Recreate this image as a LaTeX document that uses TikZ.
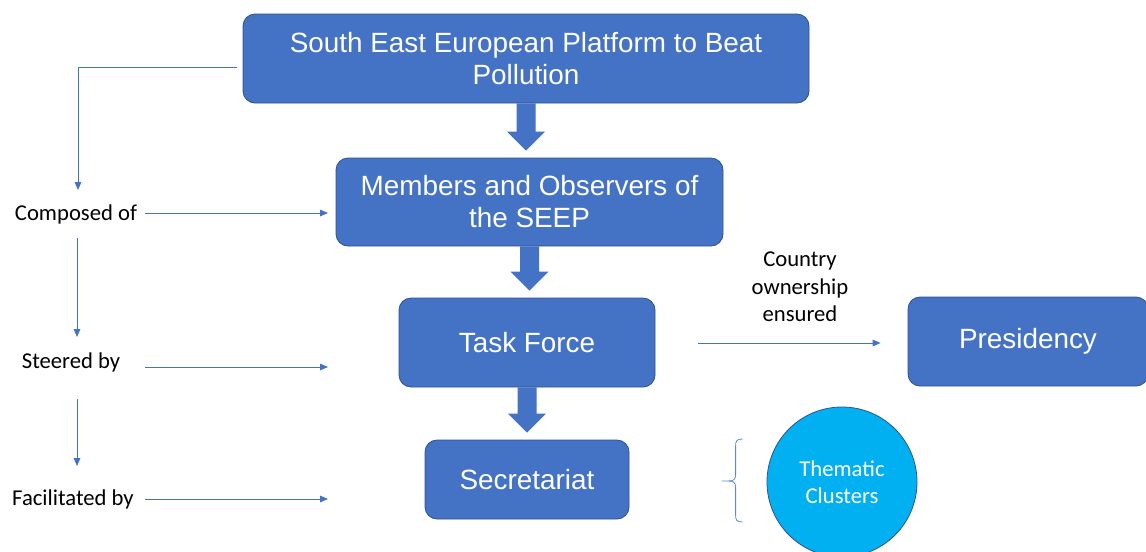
\documentclass[tikz,border=0pt]{standalone}
\usepackage{fontspec}
\setmainfont{Liberation Sans}
\newfontfamily\calibrifont{Carlito}
\usetikzlibrary{arrows.meta,calc}
\definecolor{seepblue}{RGB}{68,114,196}
\definecolor{seepedge}{RGB}{47,82,143}
\definecolor{clustercyan}{RGB}{0,176,240}

\tikzset{
  seepbox/.style={draw=seepedge, line width=0.6pt, fill=seepblue, rounded corners=9pt,
    text=white, align=center, inner sep=0pt, font=\fontsize{20.9}{24}\selectfont},
  steplabel/.style={font=\calibrifont\fontsize{17}{20.6}\selectfont, align=center, inner sep=0pt},
  thinarrow/.style={seepblue, line width=0.75pt, -{Triangle[length=6pt,width=5pt]}},
}

% thick block arrow from the bottom of #1 down to just above #2
\newcommand{\blockarrow}[2]{%
  \fill[seepblue] ($(#1.south)+(-9.5,0)$) -- ($(#1.south |- #2.north)+(-9.5,-26)$)
    -- ($(#1.south |- #2.north)+(-19,-26)$) -- ($(#1.south |- #2.north)+(0,-7)$)
    -- ($(#1.south |- #2.north)+(19,-26)$) -- ($(#1.south |- #2.north)+(9.5,-26)$)
    -- ($(#1.south)+(9.5,0)$) -- cycle;}

\begin{document}
\begin{tikzpicture}[x=0.75pt, y=-0.75pt]
\useasboundingbox (0,0) rectangle (1146,551);

% main chain
\node[seepbox, minimum width=424.5pt, minimum height=66.75pt] (platform) at (526,58.5) {South East European Platform to Beat\\Pollution};
\node[seepbox, minimum width=290.25pt, minimum height=66pt] (members) at (529.5,202) {Members and Observers of\\the SEEP};
\node[seepbox, minimum width=192pt, minimum height=66.75pt] (taskforce) at (527,342.5) {Task Force};
\node[seepbox, minimum width=153pt, minimum height=59.25pt] (secretariat) at (527,479.5) {Secretariat};
\node[seepbox, minimum width=180pt, minimum height=66.75pt] (presidency) at (1028,341.5) {Presidency};
\node[circle, draw=seepedge, line width=0.6pt, fill=clustercyan, minimum size=112.5pt, text=white,
  steplabel] (clusters) at (842,482) {Thematic\\Clusters};

\blockarrow{platform}{members}
\blockarrow{members}{taskforce}
\blockarrow{taskforce}{secretariat}

% left column
\node[steplabel] (composed) at (76,214) {Composed of};
\node[steplabel] (steered) at (71,362) {Steered by};
\node[steplabel] (facilitated) at (73,499) {Facilitated by};
\coordinate (composed-in) at (328,213);
\coordinate (steered-in) at (328,367);
\coordinate (facilitated-in) at (328,499);

\draw[thinarrow] ($(platform.west)+(-6,8.5)$) -| ($(composed)+(2,-24)$);
\draw[thinarrow] ($(composed)+(1,24)$) -- ($(composed)+(1,123)$);
\draw[thinarrow] ($(steered)+(6,37)$) -- ($(steered)+(6,104)$);
\draw[thinarrow] ($(composed.east)+(8,-1)$) -- (composed-in);
\draw[thinarrow] (steered-in -| composed.east) ++(8,0) -- (steered-in);
\draw[thinarrow] (facilitated-in -| composed.east) ++(8,0) -- (facilitated-in);

% presidency link
\draw[thinarrow] ($(taskforce.east)+(43,0.5)$) -- ($(presidency.west)+(-27,1.5)$);
\node[steplabel] (ownership) at (800,287) {Country\\ownership\\ensured};

% brace in front of the clusters
\coordinate (brace-tip) at ($(clusters.west)+(-45,-1)$);
\draw[seepblue!85, line width=0.6pt]
  ($(brace-tip)+(21,-42)$) .. controls ($(brace-tip)+(15,-42)$) and ($(brace-tip)+(14,-40)$) .. ($(brace-tip)+(14,-35)$)
  -- ($(brace-tip)+(14,-6)$) .. controls ($(brace-tip)+(14,-1)$) and ($(brace-tip)+(11,0)$) .. ($(brace-tip)+(7,0)$)
  -- (brace-tip);
\draw[seepblue!85, line width=0.6pt]
  ($(brace-tip)+(21,41)$) .. controls ($(brace-tip)+(15,41)$) and ($(brace-tip)+(14,39)$) .. ($(brace-tip)+(14,34)$)
  -- ($(brace-tip)+(14,6)$) .. controls ($(brace-tip)+(14,1)$) and ($(brace-tip)+(11,0)$) .. ($(brace-tip)+(7,0)$);
\end{tikzpicture}
\end{document}
